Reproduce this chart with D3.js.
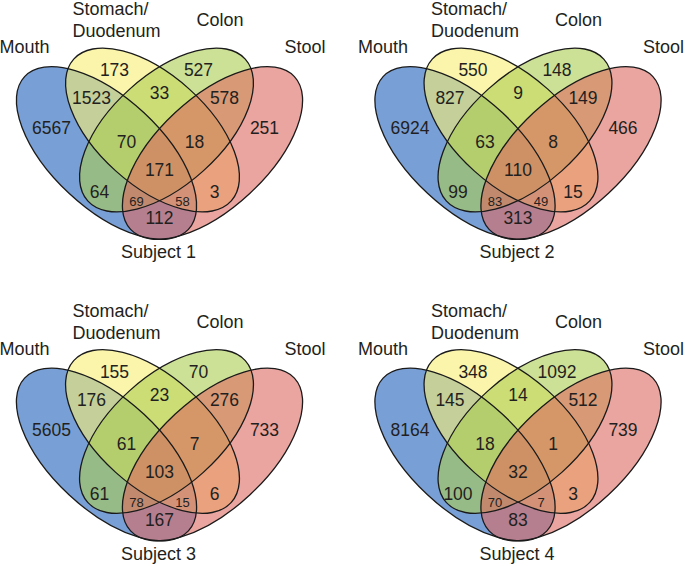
<!DOCTYPE html>
<html>
<head>
<meta charset="utf-8">
<script src="https://cdn.jsdelivr.net/npm/d3@7"></script>
<style>
  html, body { margin: 0; padding: 0; background: #fff; }
  svg { display: block; }
  text { font-family: "Liberation Sans", Arial, sans-serif; fill: #231f20; }
</style>
</head>
<body>
<svg id="chart" width="685" height="566"></svg>
<script>
// ---------- DATA ----------
const setNames = ["Mouth", "Stomach/Duodenum", "Colon", "Stool"];
const subjects = ["Subject 1", "Subject 2", "Subject 3", "Subject 4"];
// region order: M, S, C, St, M∩S, S∩C, C∩St, M∩S∩C, S∩C∩St, all four, M∩C, S∩St, M∩C∩St, M∩S∩St, M∩St
const regionKeys = ["M", "S", "C", "St", "MS", "SC", "CSt", "MSC", "SCSt", "MSCSt", "MC", "SSt", "MCSt", "MSSt", "MSt"];
const subject1 = [6567, 173, 527, 251, 1523, 33, 578, 70, 18, 171, 64, 3, 69, 58, 112];
const subject2 = [6924, 550, 148, 466, 827, 9, 149, 63, 8, 110, 99, 15, 83, 49, 313];
const subject3 = [5605, 155, 70, 733, 176, 23, 276, 61, 7, 103, 61, 6, 78, 15, 167];
const subject4 = [8164, 348, 1092, 739, 145, 14, 512, 18, 1, 32, 100, 3, 70, 7, 83];
const subjectValues = [subject1, subject2, subject3, subject4];

// ---------- LAYOUT / STYLE ----------
const setColors = ["rgb(30,97,188)", "rgb(247,238,113)", "rgb(172,205,80)", "rgb(222,105,97)"];
const fillOpacity = 0.6;
// ellipse geometry in local panel units (x relative to symmetry axis)
const ellipses = [
  { cx: -53, cy: 153, rx: 112, ry: 55, angle: 43 },
  { cx: -7, cy: 130, rx: 106, ry: 55, angle: 42 },
  { cx: 7, cy: 130, rx: 106, ry: 55, angle: -42 },
  { cx: 53, cy: 153, rx: 112, ry: 55, angle: -43 }
];
// region label anchor positions (local units)
const regionPos = {
  M: [-108, 128], S: [-45, 70], C: [39, 70], St: [105, 128],
  MS: [-68, 98], SC: [0, 93], CSt: [65, 98],
  MSC: [-33, 142], SCSt: [35, 142], MSCSt: [0, 170],
  MC: [-60, 192], SSt: [55, 192], MCSt: [-23, 201], MSSt: [23, 201], MSt: [0, 218]
};
const smallRegions = new Set(["MCSt", "MSSt"]);
const panelAxis = [159.5, 518, 159.5, 518];
const panelTop = [0, 0, 301.5, 301.5];

const svg = d3.select("#chart");

subjects.forEach((subj, i) => {
  const x = d3.scaleLinear().domain([-200, 200]).range([panelAxis[i] - 200, panelAxis[i] + 200]);
  const y = d3.scaleLinear().domain([0, 300]).range([panelTop[i], panelTop[i] + 300]);
  const g = svg.append("g").attr("class", "panel");

  // fills
  g.selectAll("ellipse.fill").data(ellipses).join("ellipse")
    .attr("class", "fill")
    .attr("cx", 0).attr("cy", 0)
    .attr("rx", d => x(d.rx) - x(0)).attr("ry", d => y(d.ry) - y(0))
    .attr("transform", d => `translate(${x(d.cx)},${y(d.cy)}) rotate(${d.angle})`)
    .attr("fill", (d, k) => setColors[k])
    .attr("fill-opacity", fillOpacity)
    .attr("stroke", "none");

  // outlines
  g.selectAll("ellipse.outline").data(ellipses).join("ellipse")
    .attr("class", "outline")
    .attr("cx", 0).attr("cy", 0)
    .attr("rx", d => x(d.rx) - x(0)).attr("ry", d => y(d.ry) - y(0))
    .attr("transform", d => `translate(${x(d.cx)},${y(d.cy)}) rotate(${d.angle})`)
    .attr("fill", "none")
    .attr("stroke", "#1a1a1a")
    .attr("stroke-width", 1.3);

  // region counts
  const vals = subjectValues[i];
  g.selectAll("text.count").data(regionKeys).join("text")
    .attr("class", "count")
    .attr("x", k => x(regionPos[k][0]))
    .attr("y", k => y(regionPos[k][1]))
    .attr("dy", "0.36em")
    .attr("text-anchor", "middle")
    .attr("font-size", k => smallRegions.has(k) ? 13 : 17.5)
    .text((k, j) => vals[j]);

  // set labels
  g.append("text").attr("x", x(-160)).attr("y", y(53)).attr("font-size", 18).text(setNames[0]);
  const parts = setNames[1].split("/");
  g.append("text").attr("x", x(-87)).attr("y", y(15)).attr("font-size", 18).text(parts[0] + "/");
  g.append("text").attr("x", x(-87)).attr("y", y(37)).attr("font-size", 18).text(parts[1]);
  g.append("text").attr("x", x(37)).attr("y", y(26)).attr("font-size", 18).text(setNames[2]);
  g.append("text").attr("x", x(125)).attr("y", y(53)).attr("font-size", 18).text(setNames[3]);
  // subject title
  g.append("text").attr("x", x(-1)).attr("y", y(258)).attr("font-size", 18)
    .attr("text-anchor", "middle").text(subj);
});
</script>
</body>
</html>
